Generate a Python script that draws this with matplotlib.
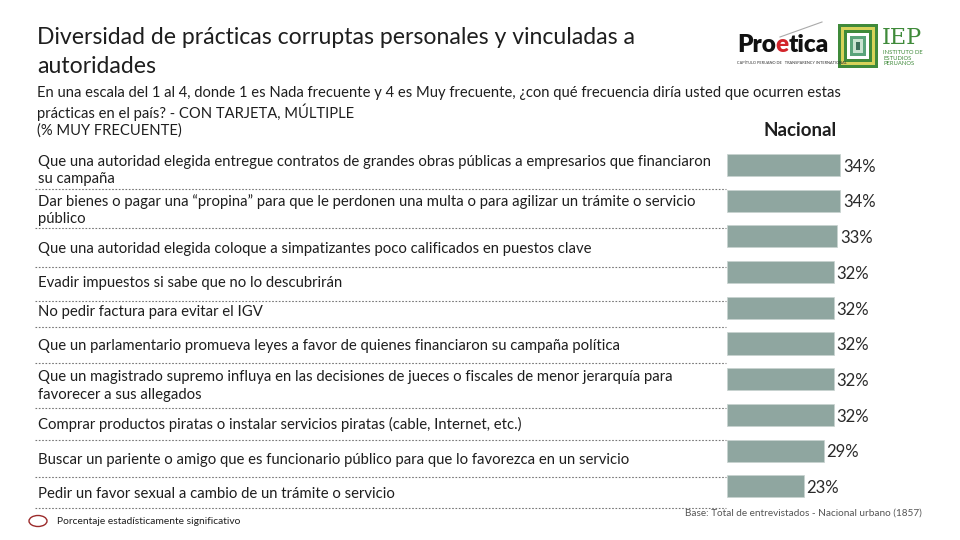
import matplotlib.pyplot as plt
from matplotlib.patches import Ellipse, Rectangle

# data
labels = [
    "Que una autoridad elegida entregue contratos de grandes obras públicas a empresarios que financiaron\nsu campaña",
    "Dar bienes o pagar una “propina” para que le perdonen una multa o para agilizar un trámite o servicio\npúblico",
    "Que una autoridad elegida coloque a simpatizantes poco calificados en puestos clave",
    "Evadir impuestos si sabe que no lo descubrirán",
    "No pedir factura para evitar el IGV",
    "Que un parlamentario promueva leyes a favor de quienes financiaron su campaña política",
    "Que un magistrado supremo influya en las decisiones de jueces o fiscales de menor jerarquía para\nfavorecer a sus allegados",
    "Comprar productos piratas o instalar servicios piratas (cable, Internet, etc.)",
    "Buscar un pariente o amigo que es funcionario público para que lo favorezca en un servicio",
    "Pedir un favor sexual a cambio de un trámite o servicio",
]
values = [34, 34, 33, 32, 32, 32, 32, 32, 29, 23]

subtitle = [
    "En una escala del 1 al 4, donde 1 es Nada frecuente y 4 es Muy frecuente, ¿con qué frecuencia diría usted que ocurren estas",
    "prácticas en el país? - CON TARJETA, MÚLTIPLE",
    "(% MUY FRECUENTE)",
]

# layout (pixels, 960x540 canvas)
label_y = [170.5, 210, 249, 283, 312, 346, 386, 424, 460, 494]
sep_y = [189, 228, 267, 301, 327, 363, 408, 440, 477, 508]

FONT = "Lato"
TXT = "#1e1e1e"
BAR = "#8fa6a0"

fig = plt.figure(figsize=(9.6, 5.4), dpi=100)
fig.patch.set_facecolor("white")

# overlay in pixel coordinates for text
ov = fig.add_axes([0, 0, 1, 1])
ov.set_xlim(0, 960)
ov.set_ylim(540, 0)
ov.axis("off")

ov.text(37, 52, "Diversidad de prácticas corruptas personales y vinculadas a\nautoridades",
        fontsize=16.6, family=FONT, color=TXT, va="center", linespacing=1.42)
for i, line in enumerate(subtitle):
    ov.text(37, 93 + 19 * i, line, fontsize=10.6, family=FONT, color=TXT, va="center")
ov.text(837, 131, "Nacional", fontsize=13.5, family=FONT, fontweight="bold",
        color=TXT, ha="right", va="center")

for y in sep_y:
    ov.plot([35, 726], [y, y], color="#777777", lw=0.8, ls=(0, (1.5, 1.5)), zorder=1)

for lab, y in zip(labels, label_y):
    ov.text(38, y, lab, fontsize=10.7, family=FONT, color=TXT, va="center", linespacing=1.35)

# footer
ov.add_patch(Ellipse((38, 521), 18, 11, fill=False, edgecolor="#9b2a2a", lw=1))
ov.text(57, 521, "Porcentaje estadísticamente significativo", fontsize=7.4,
        family=FONT, color=TXT, va="center")
ov.text(922, 513, "Base: Total de entrevistados - Nacional urbano (1857)", fontsize=7.2,
        family=FONT, color="#555555", ha="right", va="center")

# logos drawn as text, parts placed one after another
fig.canvas.draw()
rend = fig.canvas.get_renderer()
x = 737
for part, col in [("Pro", "#111111"), ("e", "#d3252b"), ("tica", "#111111")]:
    t = ov.text(x, 45, part, fontsize=17.5, family=FONT, fontweight="heavy", color=col, va="center")
    bb = t.get_window_extent(rend)
    x += bb.width
ov.plot([780, 822], [37, 22], color="#aaaaaa", lw=0.8)
ov.text(737, 63, "CAPÍTULO PERUANO DE   TRANSPARENCY INTERNATIONAL", fontsize=2.8,
        family=FONT, color="#333333", va="center")
greens = ["#3f8a3a", "#d6d25a", "#3f8a3a", "#ffffff", "#5aa47a", "#c9e3d0", "#3d6e5a"]
for i, c in enumerate(greens):
    d = i * 3
    ov.add_patch(Rectangle((838 + d, 24 + d), 40 - 2 * d, 44 - 2 * d, facecolor=c,
                           edgecolor="none"))
ov.text(882, 38, "IEP", fontsize=16, family="DejaVu Serif", color="#3f8a3a", va="center")
ov.text(883, 58, "INSTITUTO DE\nESTUDIOS\nPERUANOS", fontsize=4.2, family=FONT,
        color="#3f8a3a", va="center", linespacing=1.1)

# bars
top, bottom = 147.15, 504.15
ax = fig.add_axes([727 / 960, (540 - bottom) / 540, 200 / 960, (bottom - top) / 540])
ax.set_xlim(0, 200 / 3.33)
ax.set_ylim(len(values) - 0.5, -0.5)
ax.axis("off")
ax.patch.set_alpha(0)
ax.barh(range(len(values)), values, height=0.62, color=BAR, edgecolor="#c8d2cf", lw=0.5)
for i, v in enumerate(values):
    ax.text(v + 0.9, i + 0.05, f"{v}%", fontsize=12, family=FONT, color="#2a2a2a", va="center")

fig.savefig("out.png", dpi=100)
